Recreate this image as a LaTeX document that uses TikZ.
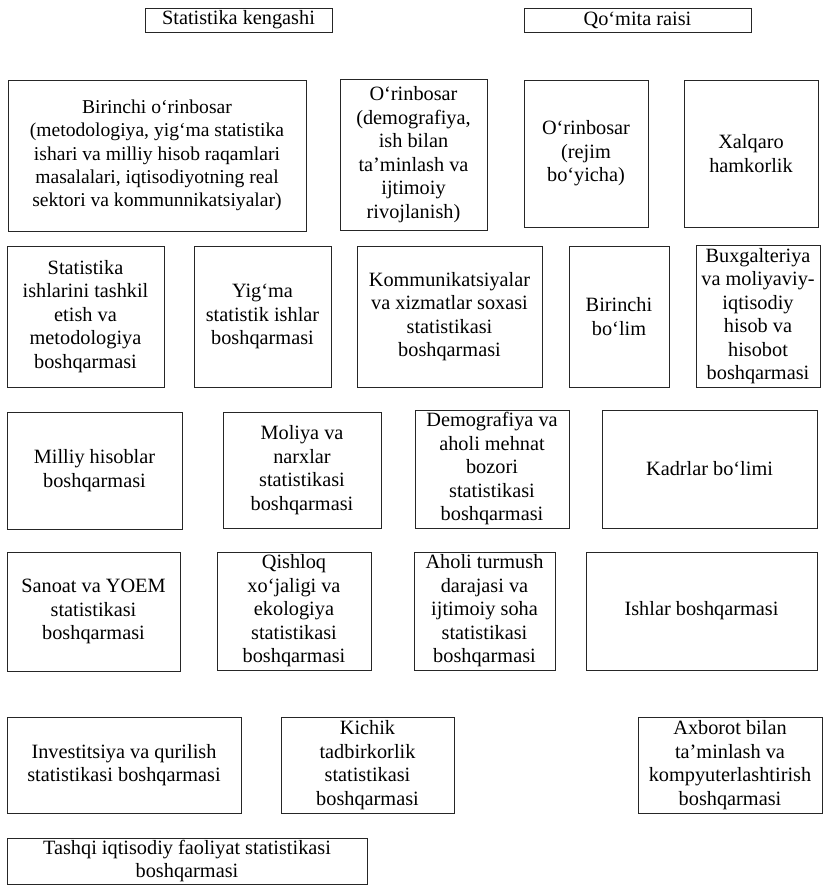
\documentclass[tikz,border=0pt]{standalone}
\usepackage{fontspec}
\setmainfont{Liberation Serif}
\begin{document}
\begin{tikzpicture}[x=1pt,y=-1pt,
  box/.style={draw=black!85, line width=0.9pt, align=center, inner sep=0pt,
    font=\fontsize{20.3}{23.5}\selectfont, anchor=center},
  smalltext/.style={font=\fontsize{19.6}{23.4}\selectfont}]
\newcommand\bx[7][]{\node[box, #1, minimum width={(#5-#3)*1pt}, minimum height={(#6-#4)*1pt}] (#2) at ({(#3+#5)/2},{(#4+#6)/2}) {#7};}
\useasboundingbox (0,0) rectangle (824,885);
\bx{kengash}{145}{8}{332}{32}{Statistika kengashi}
\bx{raisi}{524}{8}{751}{32}{Qo‘mita raisi}
\bx[smalltext]{birinchi}{8}{80}{306}{231}{Birinchi o‘rinbosar\\(metodologiya, yig‘ma statistika\\ishari va milliy hisob raqamlari\\masalalari, iqtisodiyotning real\\sektori va kommunnikatsiyalar)}
\bx{demorin}{340}{79}{487}{230}{O‘rinbosar\\(demografiya,\\ish bilan\\ta’minlash va\\ijtimoiy\\rivojlanish)}
\bx{rejim}{524}{80}{648}{227}{O‘rinbosar\\(rejim\\bo‘yicha)}
\bx{xalqaro}{684}{80}{818}{227}{Xalqaro\\hamkorlik}
\bx{tashkil}{7}{246}{164}{387}{Statistika\\ishlarini tashkil\\etish va\\metodologiya\\boshqarmasi}
\bx{yigma}{194}{246}{331}{387}{Yig‘ma\\statistik ishlar\\boshqarmasi}
\bx{kommun}{357}{246}{542}{387}{Kommunikatsiyalar\\va xizmatlar soxasi\\statistikasi\\boshqarmasi}
\bx{birbolim}{569}{246}{669}{387}{Birinchi\\bo‘lim}
\bx{buxg}{696}{245}{820}{387}{Buxgalteriya\\va moliyaviy-\\iqtisodiy\\hisob va\\hisobot\\boshqarmasi}
\bx{milliy}{7}{412}{182}{529}{Milliy hisoblar\\boshqarmasi}
\bx{moliya}{223}{412}{381}{528}{Moliya va\\narxlar\\statistikasi\\boshqarmasi}
\bx{demog}{415}{410}{569}{528}{Demografiya va\\aholi mehnat\\bozori\\statistikasi\\boshqarmasi}
\bx{kadr}{602}{410}{817}{528}{Kadrlar bo‘limi}
\bx{sanoat}{7}{552}{180}{671}{Sanoat va YOEM\\statistikasi\\boshqarmasi}
\bx{qishloq}{217}{552}{371}{670}{Qishloq\\xo‘jaligi va\\ekologiya\\statistikasi\\boshqarmasi}
\bx{aholi}{414}{552}{555}{670}{Aholi turmush\\darajasi va\\ijtimoiy soha\\statistikasi\\boshqarmasi}
\bx{ishlar}{586}{552}{817}{670}{Ishlar boshqarmasi}
\bx{invest}{7}{717}{241}{813}{Investitsiya va qurilish\\statistikasi boshqarmasi}
\bx{kichik}{281}{717}{454}{813}{Kichik\\tadbirkorlik\\statistikasi\\boshqarmasi}
\bx{axborot}{638}{717}{822}{813}{Axborot bilan\\ta’minlash va\\kompyuterlashtirish\\boshqarmasi}
\bx{tashqi}{7}{838}{367}{884}{Tashqi iqtisodiy faoliyat statistikasi\\boshqarmasi}
\end{tikzpicture}
\end{document}
